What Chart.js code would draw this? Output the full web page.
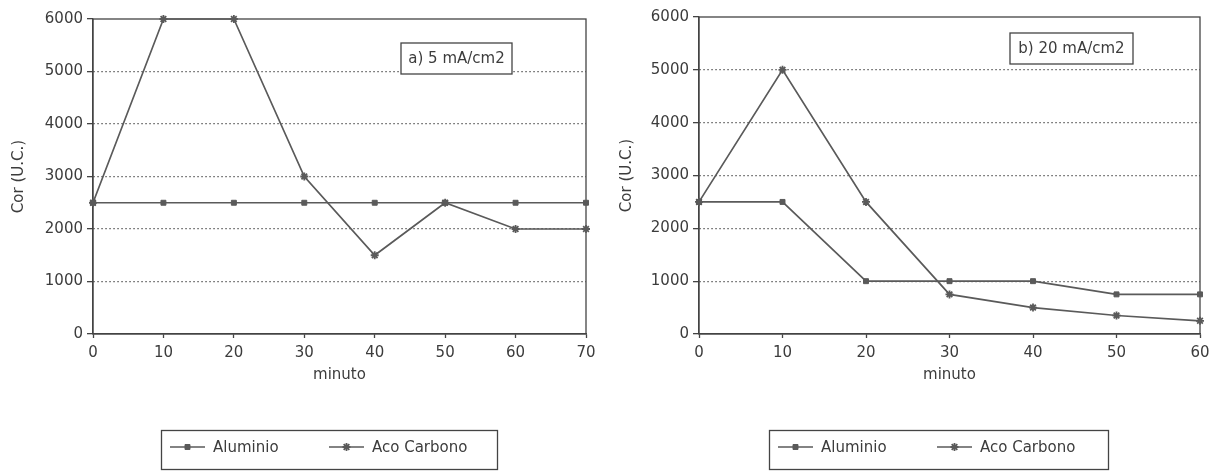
<!DOCTYPE html>
<html>
<head>
<meta charset="utf-8">
<script src="https://cdn.jsdelivr.net/npm/chart.js@4.4.1/dist/chart.umd.min.js"></script>
<style>
  html, body { margin: 0; padding: 0; background: #fff; }
  #wrap { position: relative; width: 1216px; height: 471px; overflow: hidden; }
  canvas { position: absolute; top: 0; }
  #chartA { left: 0; }
  #chartB { left: 608px; }
</style>
</head>
<body>
<div id="wrap">
  <canvas id="chartA" width="608" height="471"></canvas>
  <canvas id="chartB" width="608" height="471"></canvas>
</div>
<script>
// valores (a) 5 mA/cm2
const minutosA = [0, 10, 20, 30, 40, 50, 60, 70];
const aluminioA = [2500, 2500, 2500, 2500, 2500, 2500, 2500, 2500];
const acoCarbonoA = [2500, 6000, 6000, 3000, 1500, 2500, 2000, 2000];

// (b) 20 mA/cm2
const minutosB = [0, 10, 20, 30, 40, 50, 60];
const aluminioB = [2500, 2500, 1000, 1000, 1000, 750, 750];
const acoCarbonoB = [2500, 5000, 2500, 750, 500, 350, 250];

const seriesNames = ['Aluminio', 'Aco Carbono'];
const panelTitles = ['a) 5 mA/cm2', 'b) 20 mA/cm2'];
const yTitle = 'Cor (U.C.)';
const xTitle = 'minuto';
const yMax = 6000;
const yStep = 1000;
const xStep = 10;

const ink = '#5a5a5a';
const textInk = '#3c3c3c';
const fam = '"DejaVu Sans", sans-serif';

function pontos(xs, ys) {
  return xs.map((x, i) => ({ x: x, y: ys[i] }));
}

// moldura do grafico + caixa com o titulo do painel + legenda
const framePlugin = {
  id: 'frame',
  beforeDatasetsDraw(chart, args, opts) {
    const a = chart.chartArea;
    const c = chart.ctx;
    c.save();
    c.strokeStyle = '#444';
    c.lineWidth = 1.3;
    c.strokeRect(a.left, a.top, a.right - a.left, a.bottom - a.top);
    c.restore();
  },
  afterDraw(chart, args, opts) {
    const c = chart.ctx;
    c.save();
    // caixa do titulo
    c.fillStyle = '#fff';
    c.fillRect(opts.tx, opts.ty, opts.tw, opts.th);
    c.strokeStyle = '#444';
    c.lineWidth = 1.3;
    c.strokeRect(opts.tx, opts.ty, opts.tw, opts.th);
    c.font = '15px ' + fam;
    c.fillStyle = textInk;
    c.textAlign = 'center';
    c.textBaseline = 'middle';
    c.fillText(opts.title, opts.tx + opts.tw / 2, opts.ty + opts.th / 2 + 1);

    // legenda
    c.strokeRect(opts.lx + 0.5, opts.ly + 0.5, opts.lw, opts.lh);
    const offs = [9, 168];
    c.textAlign = 'left';
    chart.data.datasets.forEach((ds, i) => {
      const x0 = opts.lx + offs[i];
      const cy = opts.ly + 17;
      c.strokeStyle = ds.borderColor;
      c.lineWidth = 1.6;
      c.beginPath();
      c.moveTo(x0, cy);
      c.lineTo(x0 + 35, cy);
      c.stroke();
      c.fillStyle = ds.pointBackgroundColor;
      c.strokeStyle = ds.pointBorderColor;
      c.lineWidth = ds.pointBorderWidth;
      Chart.helpers.drawPoint(c, { pointStyle: ds.pointStyle, radius: ds.pointRadius, rotation: 0, borderWidth: ds.pointBorderWidth }, x0 + 17.5, cy);
      c.fillStyle = textInk;
      c.fillText(ds.label, x0 + 43, cy + 1);
    });
    c.restore();
  }
};

function drawChart(id, xs, alu, aco, xMax, title, lay) {
  const ctx = document.getElementById(id);
  new Chart(ctx, {
    type: 'line',
    data: {
      datasets: [
        {
          label: seriesNames[0],
          data: pontos(xs, alu),
          borderColor: ink,
          borderWidth: 1.7,
          pointStyle: 'rect',
          pointRadius: 3.5,
          pointBackgroundColor: ink,
          pointBorderColor: ink,
          pointBorderWidth: 1,
          tension: 0,
          clip: false
        },
        {
          label: seriesNames[1],
          data: pontos(xs, aco),
          borderColor: ink,
          borderWidth: 1.7,
          pointStyle: 'star',
          pointRadius: 4,
          pointBackgroundColor: ink,
          pointBorderColor: ink,
          pointBorderWidth: 1.8,
          tension: 0,
          clip: false
        }
      ]
    },
    options: {
      responsive: false,
      animation: false,
      layout: { padding: { left: 0, top: lay.top, right: lay.right, bottom: 77 } },
      plugins: {
        legend: { display: false },
        tooltip: { enabled: false },
        frame: {
          title: title,
          tx: lay.tx, ty: lay.ty, tw: lay.tw, th: lay.th,
          lx: 161, ly: 430, lw: lay.lw, lh: 39
        }
      },
      scales: {
        x: {
          type: 'linear',
          min: 0,
          max: xMax,
          afterFit: (s) => { s.height = 60; },
          ticks: {
            stepSize: xStep,
            padding: 6,
            color: textInk,
            font: { family: fam, size: 15 },
            maxRotation: 0
          },
          grid: { drawOnChartArea: false, drawTicks: true, tickLength: 4, tickColor: '#444', tickWidth: 1.3 },
          border: { color: '#444', width: 1.3 },
          title: {
            display: true,
            text: xTitle,
            color: textInk,
            font: { family: fam, size: 15 },
            padding: { top: 0, bottom: 10 }
          }
        },
        y: {
          min: 0,
          max: yMax,
          afterFit: (s) => { s.width = lay.left; },
          ticks: {
            stepSize: yStep,
            padding: 4,
            color: textInk,
            font: { family: fam, size: 15 },
            callback: (v) => String(v)
          },
          grid: {
            color: (c) => (c.tick && (c.tick.value === 0 || c.tick.value === yMax)) ? 'rgba(0,0,0,0)' : '#5e5e5e',
            lineWidth: 1.3,
            tickLength: 6,
            tickColor: '#444',
            tickWidth: 1.3
          },
          border: { color: '#444', width: 1.3, dash: [1.5, 2.5] },
          title: {
            display: true,
            text: yTitle,
            color: textInk,
            font: { family: fam, size: 15 },
            padding: { top: 10, bottom: 0 }
          }
        }
      }
    },
    plugins: [framePlugin]
  });
}

drawChart('chartA', minutosA, aluminioA, acoCarbonoA, 70, panelTitles[0],
  { left: 93, top: 19, right: 22, tx: 401, ty: 43, tw: 111, th: 31, lw: 336 });
drawChart('chartB', minutosB, aluminioB, acoCarbonoB, 60, panelTitles[1],
  { left: 91, top: 17, right: 16, tx: 402, ty: 33, tw: 123, th: 31, lw: 339 });
</script>
</body>
</html>
